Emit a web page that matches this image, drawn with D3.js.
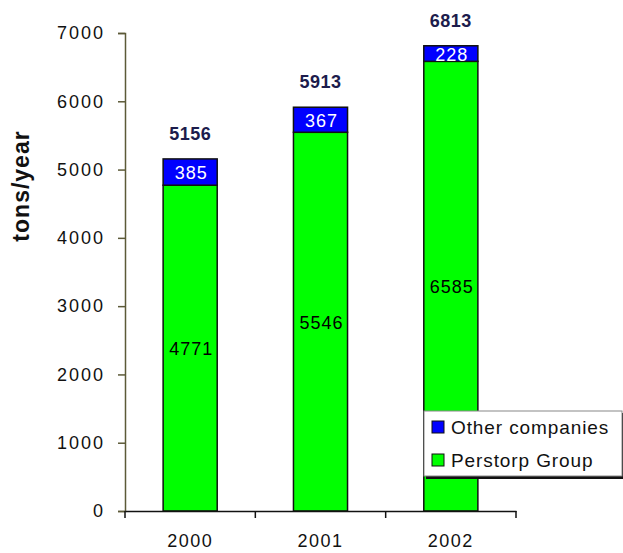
<!DOCTYPE html>
<html>
<head>
<meta charset="utf-8">
<script src="https://cdn.jsdelivr.net/npm/d3@7"></script>
<style>
  html, body { margin: 0; padding: 0; background: #fff; }
  svg { display: block; font-family: "Liberation Sans", Arial, sans-serif; }
</style>
</head>
<body>
<svg id="chart" width="623" height="553"></svg>
<script>
// Annual production, tons/year
const years = ["2000", "2001", "2002"];
const perstorp = [4771, 5546, 6585];
const others = [385, 367, 228];
const totals = [5156, 5913, 6813];
const yTicks = [0, 1000, 2000, 3000, 4000, 5000, 6000, 7000];
const seriesNames = ["Other companies", "Perstorp Group"];
const seriesColors = ["#0000ff", "#00ff00"];

const svg = d3.select("#chart");

const y = d3.scaleLinear().domain([0, 7000]).range([511, 33]);
const x = d3.scaleBand().domain(years).range([125, 516]).padding(0);
const barW = x.bandwidth() * 0.415;
const barX = d => x(d) + (x.bandwidth() - barW) / 2;

// Y axis
const yAxis = svg.append("g")
  .attr("transform", "translate(125,0)")
  .call(d3.axisLeft(y).tickValues(yTicks).tickSize(7).tickPadding(13).tickFormat(d3.format("d")));
yAxis.select(".domain").attr("stroke", "#5c5a38").attr("stroke-width", 1.5);
yAxis.selectAll(".tick line").attr("stroke", "#5c5a38").attr("stroke-width", 1.5);
yAxis.selectAll(".tick text")
  .attr("font-size", 18).attr("fill", "#111").style("letter-spacing", "2px")
  .attr("font-family", "Liberation Sans, Arial, sans-serif");

// Bars: green base, blue stacked on top
const g = svg.append("g");
years.forEach((yr, i) => {
  g.append("rect")
    .attr("x", barX(yr)).attr("width", barW)
    .attr("y", y(perstorp[i])).attr("height", y(0) - y(perstorp[i]))
    .attr("fill", seriesColors[1]).attr("stroke", "#111").attr("stroke-width", 1.5);
  g.append("rect")
    .attr("x", barX(yr)).attr("width", barW)
    .attr("y", y(perstorp[i] + others[i])).attr("height", y(perstorp[i]) - y(perstorp[i] + others[i]))
    .attr("fill", seriesColors[0]).attr("stroke", "#111").attr("stroke-width", 1.5);

  const cx = x(yr) + x.bandwidth() / 2;
  // segment values
  g.append("text")
    .attr("x", cx + 1).attr("y", (y(0) + y(perstorp[i])) / 2 + 1)
    .attr("text-anchor", "middle").attr("dominant-baseline", "central")
    .attr("font-size", 18).attr("fill", "#000").style("letter-spacing", "1px")
    .text(perstorp[i]);
  g.append("text")
    .attr("x", cx + 1).attr("y", (y(perstorp[i]) + y(perstorp[i] + others[i])) / 2 + 1)
    .attr("text-anchor", "middle").attr("dominant-baseline", "central")
    .attr("font-size", 18).attr("fill", "#fff").style("letter-spacing", "1px")
    .text(others[i]);
  // totals
  g.append("text")
    .attr("x", cx).attr("y", y(totals[i]) - 25)
    .attr("text-anchor", "middle").attr("dominant-baseline", "central")
    .attr("font-size", 18).attr("font-weight", "bold").attr("fill", "#1c1c4c")
    .style("letter-spacing", "0.5px")
    .text(totals[i]);
});

// X axis
const xAxis = svg.append("g")
  .attr("transform", "translate(0,511)")
  .call(d3.axisBottom(x).tickSize(0).tickPadding(23));
xAxis.select(".domain").attr("stroke", "#111").attr("stroke-width", 1.5);
xAxis.selectAll(".tick text").attr("font-size", 18).attr("fill", "#111")
  .style("letter-spacing", "1.5px")
  .attr("font-family", "Liberation Sans, Arial, sans-serif");
const bounds = [x.range()[0]].concat(years.map(d => x(d) + x.bandwidth()));
xAxis.selectAll(".sep").data(bounds).join("line")
  .attr("x1", d => d).attr("x2", d => d).attr("y1", 0).attr("y2", 7)
  .attr("stroke", "#111").attr("stroke-width", 1.5);

// Axis title
svg.append("text")
  .attr("transform", "translate(21,186) rotate(-90)")
  .attr("text-anchor", "middle").attr("dominant-baseline", "central")
  .attr("font-size", 23).attr("font-weight", "bold").attr("fill", "#111")
  .style("letter-spacing", "1px")
  .text("tons/year");

// Legend
const lg = svg.append("g").attr("transform", "translate(424,411)");
lg.append("rect").attr("x", 2).attr("y", 2).attr("width", 199).attr("height", 66).attr("fill", "#111");
lg.append("rect").attr("x", 0).attr("y", 0).attr("width", 198).attr("height", 65)
  .attr("fill", "#fff").attr("stroke", "#888").attr("stroke-width", 1);
seriesNames.forEach((name, i) => {
  const row = lg.append("g").attr("transform", `translate(8,${16 + i * 33})`);
  row.append("rect").attr("x", 0).attr("y", -6).attr("width", 12).attr("height", 12)
    .attr("fill", seriesColors[i]).attr("stroke", "#111").attr("stroke-width", 1);
  row.append("text").attr("x", 19).attr("y", 0).attr("dominant-baseline", "central")
    .attr("font-size", 19).attr("fill", "#111").style("letter-spacing", "0.9px")
    .text(name);
});
</script>
</body>
</html>
